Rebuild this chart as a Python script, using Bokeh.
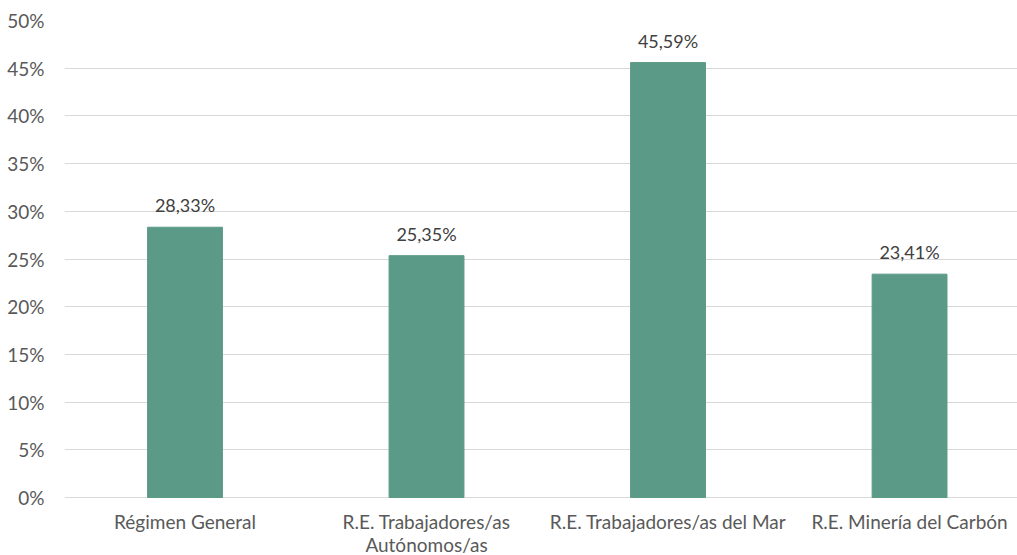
from bokeh.plotting import figure
from bokeh.models import ColumnDataSource, FixedTicker, Range1d
from bokeh.core.properties import value
from bokeh.embed import file_html
from bokeh.resources import INLINE

categories = ["Régimen General", "R.E. Trabajadores/as\nAutónomos/as",
              "R.E. Trabajadores/as del Mar", "R.E. Minería del Carbón"]
values = [28.33, 25.35, 45.59, 23.41]
labels = ["28,33%", "25,35%", "45,59%", "23,41%"]
y_ticks = [0, 5, 10, 15, 20, 25, 30, 35, 40, 45, 50]

FONT = "Lato"
TXT = "#595959"

xs = list(range(len(categories)))
src = ColumnDataSource(dict(x=xs, top=values, label=labels, cat=categories,
                            zero=[0] * len(xs)))

# frame spans y=20..555 px; 0% sits at 497 px, 50% at 20 px
y_bottom = -50 * 58 / 477

p = figure(width=1017, height=555, output_backend="svg", toolbar_location=None,
           x_range=Range1d(-0.499, 3.447), y_range=Range1d(y_bottom, 50),
           min_border_left=64, min_border_right=0, min_border_top=20, min_border_bottom=0)
p.outline_line_color = None
p.background_fill_color = "white"
p.border_fill_color = "white"

p.vbar(x="x", top="top", width=0.31, bottom=0, source=src, color="#5B9A87")
p.text(x="x", y="top", text="label", source=src, text_align="center",
       text_baseline="bottom", y_offset=-11, text_font=value(FONT),
       text_font_size="18px", text_color="#404040")
p.text(x="x", y="zero", text="cat", source=src, text_align="center",
       text_baseline="top", y_offset=12, text_font=value(FONT),
       text_font_size="19px", text_color=TXT, text_line_height=1.0)

p.xgrid.grid_line_color = None
p.ygrid.grid_line_color = "#D9D9D9"
p.ygrid.grid_line_width = 1

p.yaxis.ticker = FixedTicker(ticks=y_ticks)
p.yaxis.major_label_overrides = {t: f"{t}%" for t in y_ticks}
p.yaxis.axis_line_color = None
p.yaxis.major_tick_line_color = None
p.yaxis.minor_tick_line_color = None
p.yaxis.major_label_standoff = 14
p.yaxis.major_label_text_font = FONT
p.yaxis.major_label_text_font_size = "19px"
p.yaxis.major_label_text_color = TXT

p.xaxis.visible = False

open("out.html", "w").write(file_html(p, INLINE))
